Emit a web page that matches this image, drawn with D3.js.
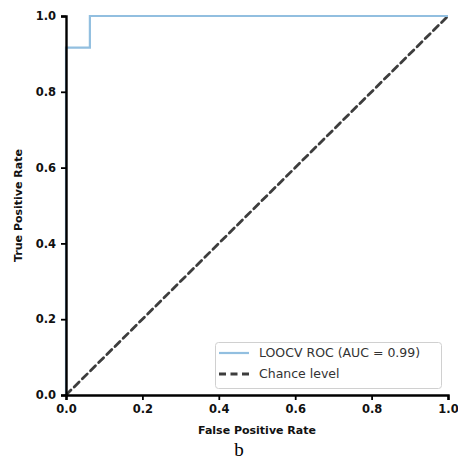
<!DOCTYPE html>
<html lang="en">
<head>
<meta charset="UTF-8">
<title>ROC curve</title>
<script src="https://d3js.org/d3.v7.min.js"></script>
<style>
  body { margin: 0; background: #fff; }
  .tick text { font-family: "DejaVu Sans", sans-serif; font-weight: bold; font-size: 11.5px; fill: #111; }
  .axis-label { font-family: "DejaVu Sans", sans-serif; font-weight: bold; font-size: 11px; fill: #111; }
  .legend text { font-family: "DejaVu Sans", sans-serif; font-size: 12.5px; fill: #333; }
</style>
</head>
<body>
<div id="chart"></div>
<script>
// ROC points (FPR, TPR)
var rocFpr = [0, 0, 0.0625, 0.0625, 1];
var rocTpr = [0, 0.9167, 0.9167, 1, 1];
// chance level diagonal
var chanceX = [0, 1];
var chanceY = [0, 1];
var tickVals = [0, 0.2, 0.4, 0.6, 0.8, 1.0];
var seriesNames = ["LOOCV ROC (AUC = 0.99)", "Chance level"];

var width = 458, height = 472;
var margin = { top: 16, right: 10, bottom: 77, left: 66 };

var x = d3.scaleLinear().domain([0, 1]).range([margin.left, 448]);
var y = d3.scaleLinear().domain([0, 1]).range([395, margin.top]);

var svg = d3.select("#chart").append("svg")
  .attr("width", width)
  .attr("height", height);

var line = d3.line()
  .x(function (d) { return x(d[0]); })
  .y(function (d) { return y(d[1]); });

// chance level
svg.append("path")
  .datum(d3.zip(chanceX, chanceY))
  .attr("d", line)
  .attr("fill", "none")
  .attr("stroke", "#3d3d3d")
  .attr("stroke-width", 2.8)
  .attr("stroke-dasharray", "7,4.5")
  .attr("stroke-linecap", "round");

// ROC curve
svg.append("path")
  .datum(d3.zip(rocFpr, rocTpr))
  .attr("d", line)
  .attr("fill", "none")
  .attr("stroke", "#92bfe0")
  .attr("stroke-width", 2.2);

// axes
var xAxis = svg.append("g")
  .attr("transform", "translate(0," + y(0) + ")")
  .call(d3.axisBottom(x).tickValues(tickVals).tickFormat(d3.format(".1f")).tickSize(5).tickPadding(5));
var yAxis = svg.append("g")
  .attr("transform", "translate(" + x(0) + ",0)")
  .call(d3.axisLeft(y).tickValues(tickVals).tickFormat(d3.format(".1f")).tickSize(5).tickPadding(5));
[xAxis, yAxis].forEach(function (g) {
  g.select(".domain").attr("stroke", "#000").attr("stroke-width", 2.4);
  g.selectAll(".tick line").attr("stroke", "#000").attr("stroke-width", 1.8);
});

// axis labels
svg.append("text")
  .attr("class", "axis-label")
  .attr("x", (x(0) + x(1)) / 2)
  .attr("y", 434)
  .attr("text-anchor", "middle")
  .text("False Positive Rate");
svg.append("text")
  .attr("class", "axis-label")
  .attr("transform", "translate(22," + (y(0) + y(1)) / 2 + ") rotate(-90)")
  .attr("text-anchor", "middle")
  .text("True Positive Rate");

// legend
var legend = svg.append("g").attr("class", "legend");
legend.append("rect")
  .attr("x", 215.5).attr("y", 342.5)
  .attr("width", 226).attr("height", 46)
  .attr("rx", 3)
  .attr("fill", "#fff").attr("fill-opacity", 0.85)
  .attr("stroke", "#d0d0d0");
var legendStyles = [
  { color: "#92bfe0", dash: null, w: 2.2 },
  { color: "#3d3d3d", dash: "7,4.5", w: 2.8 }
];
seriesNames.forEach(function (name, i) {
  var yy = 353 + i * 21;
  legend.append("line")
    .attr("x1", 219).attr("x2", 249)
    .attr("y1", yy).attr("y2", yy)
    .attr("stroke", legendStyles[i].color)
    .attr("stroke-width", legendStyles[i].w)
    .attr("stroke-dasharray", legendStyles[i].dash);
  legend.append("text")
    .attr("x", 259).attr("y", yy)
    .attr("dy", "0.35em")
    .text(name);
});

// panel caption
svg.append("text")
  .attr("x", 239)
  .attr("y", 456)
  .attr("text-anchor", "middle")
  .style("font-family", "'Liberation Serif', 'Times New Roman', serif")
  .style("font-size", "19px")
  .style("fill", "#000")
  .text("b");
</script>
</body>
</html>
